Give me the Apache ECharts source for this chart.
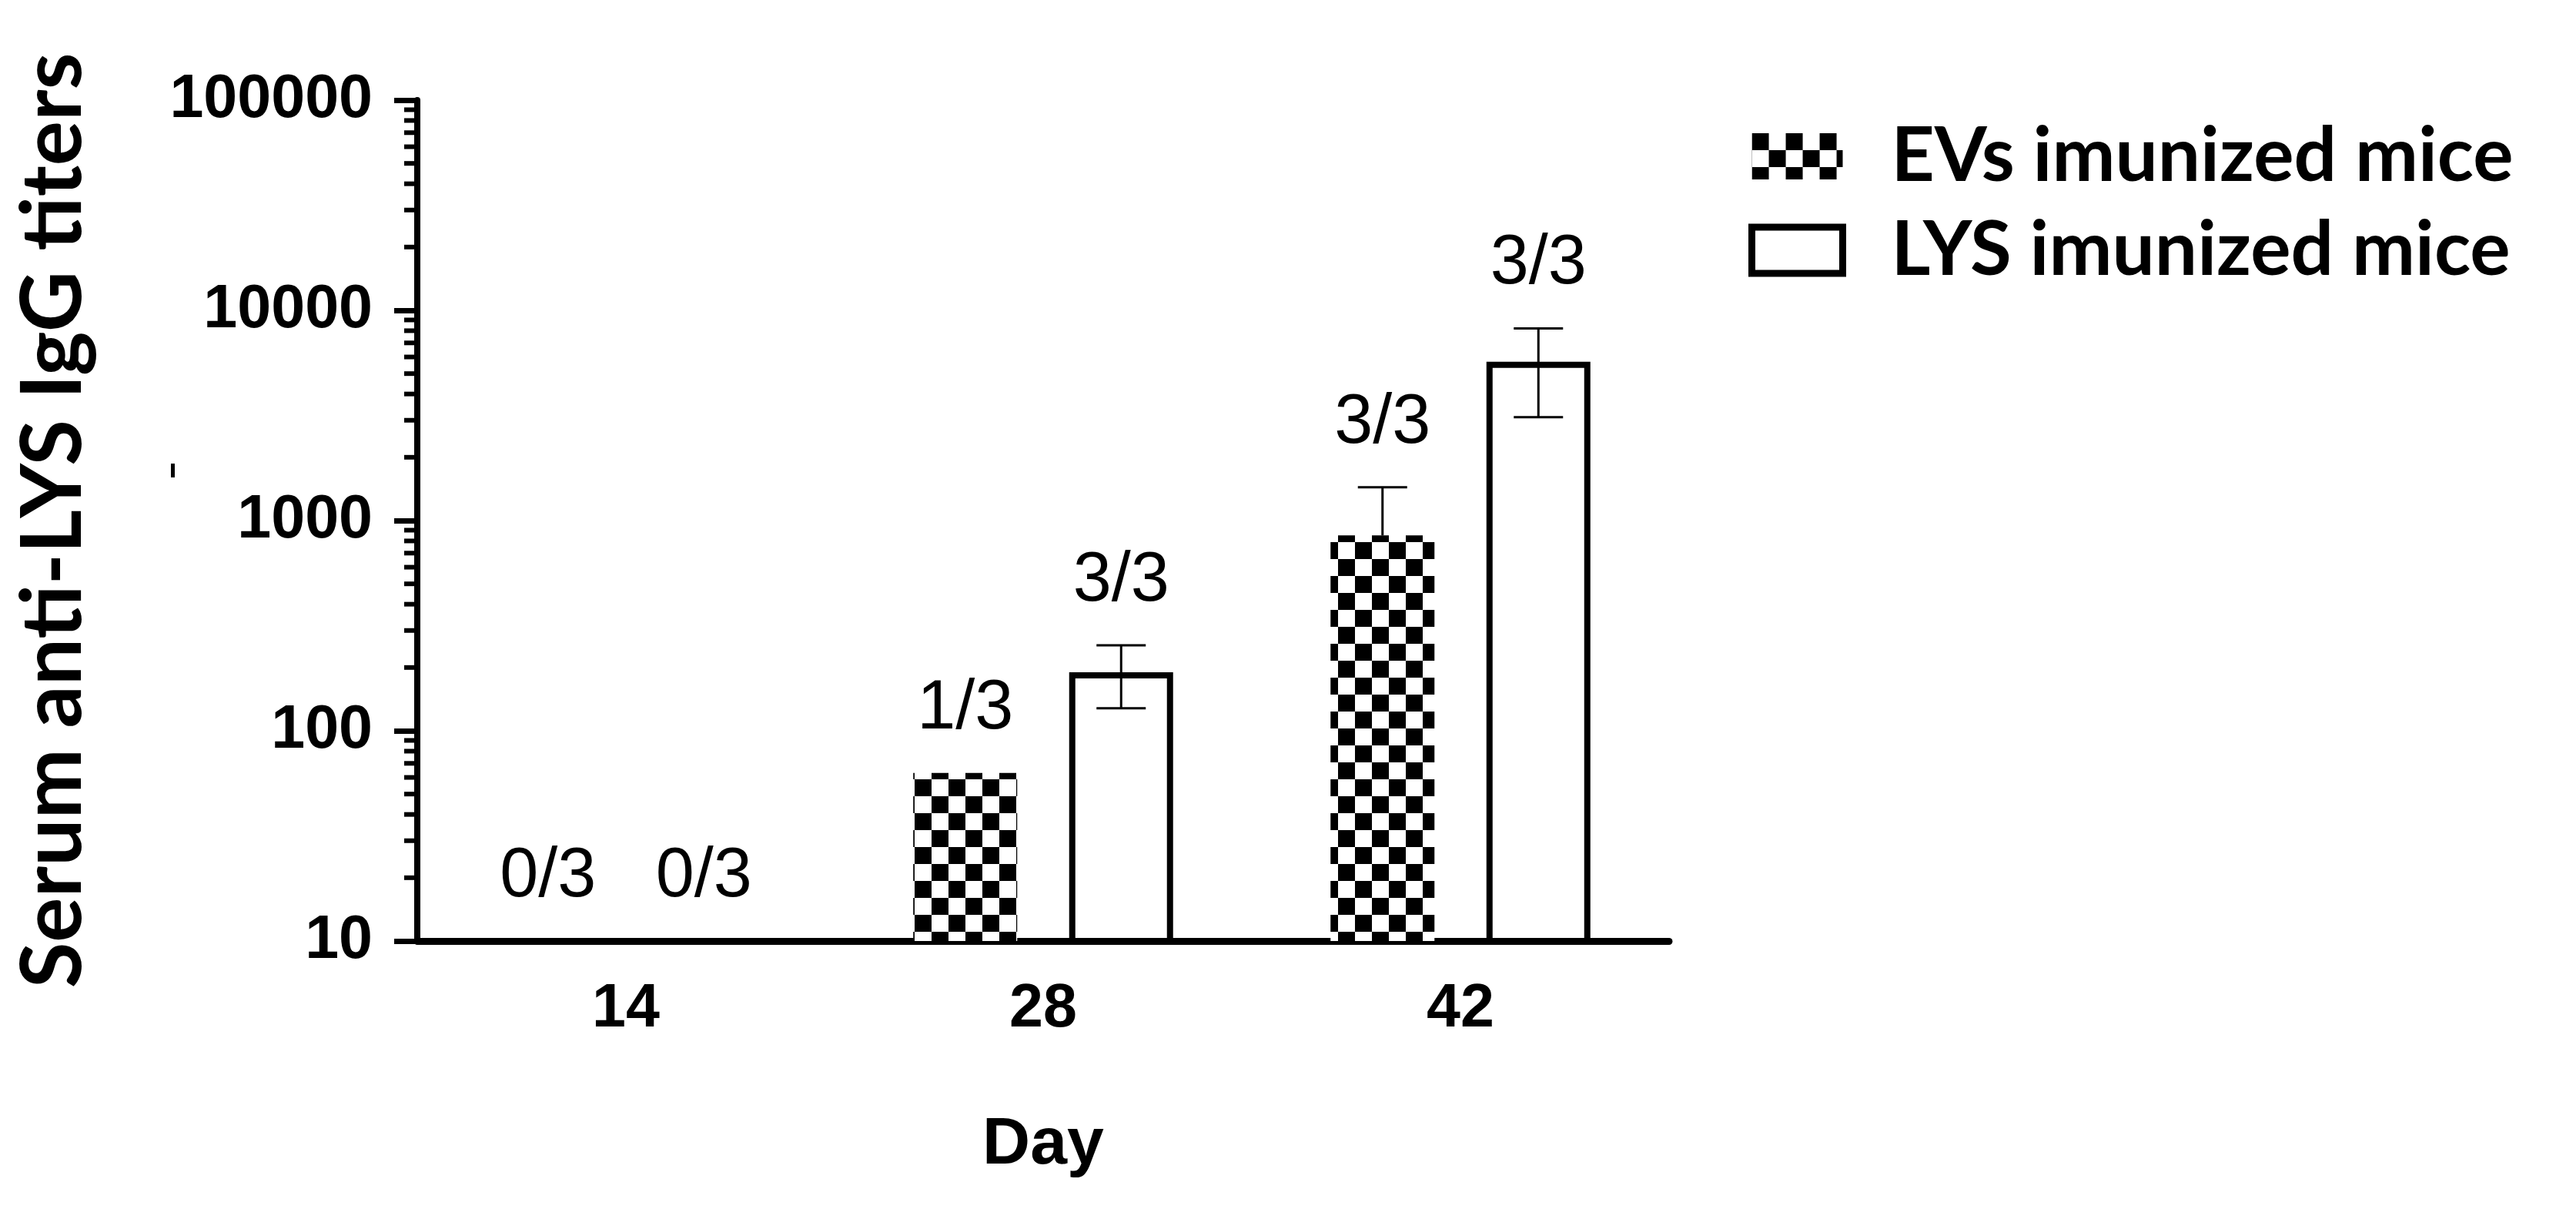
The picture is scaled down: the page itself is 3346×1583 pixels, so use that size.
<!DOCTYPE html>
<html>
<head>
<meta charset="utf-8">
<script src="https://cdn.jsdelivr.net/npm/echarts@6/dist/echarts.min.js"></script>
<style>
  html, body { margin: 0; padding: 0; background: #fff; }
  #chart { width: 3346px; height: 1583px; }
</style>
</head>
<body>
<div id="chart"></div>
<script>
// ---- data ----
const days = ['14', '28', '42'];
const seriesNames = ['EVs imunized mice', 'LYS imunized mice'];
const evsTiter = [null, 63, 850];
const lysTiter = [null, 190, 5700];
const evsErrHigh = [null, null, 1440];
const evsErrLow = [null, null, null];
const lysErrHigh = [null, 255, 8200];
const lysErrLow = [null, 128, 3100];
const evsResponders = ['0/3', '1/3', '3/3'];
const lysResponders = ['0/3', '3/3', '3/3'];
const yMin = 10;
const yMax = 100000;
const minorMultipliers = [2, 3, 4, 5, 6, 7, 8, 9];
const minorDecades = [10, 100, 1000, 10000];

// ---- styles ----
const BAR_W = 135;
const BAR_GAP = 0.5;
const NUM_FONT = '"Liberation Sans", Arial, sans-serif';
const TITLE_FONT = 'Lato, "Open Sans", sans-serif';

function makeChecker(size) {
  const c = document.createElement('canvas');
  c.width = size * 2; c.height = size * 2;
  const g = c.getContext('2d');
  g.fillStyle = '#fff'; g.fillRect(0, 0, size * 2, size * 2);
  g.fillStyle = '#000';
  g.fillRect(0, 0, size, size);
  g.fillRect(size, size, size, size);
  return c;
}
const checker = { image: makeChecker(22), repeat: 'repeat' };

const minorTicks = [];
minorDecades.forEach(d => minorMultipliers.forEach(m => minorTicks.push([0, d * m])));

function groupOffset(g) {
  const total = BAR_W * (2 + BAR_GAP);
  return -total / 2 + BAR_W / 2 + g * BAR_W * (1 + BAR_GAP);
}

const errData = [];
[[evsErrLow, evsErrHigh, evsTiter], [lysErrLow, lysErrHigh, lysTiter]].forEach((arr, g) => {
  days.forEach((d, i) => {
    if (arr[1][i] != null) errData.push([i, arr[0][i] != null ? arr[0][i] : arr[2][i], arr[1][i], g, arr[0][i] != null ? 1 : 0]);
  });
});

const labelData = [];
[[evsResponders, evsErrHigh, evsTiter], [lysResponders, lysErrHigh, lysTiter]].forEach((arr, g) => {
  days.forEach((d, i) => {
    const anchor = arr[1][i] != null ? arr[1][i] : (arr[2][i] != null ? arr[2][i] : yMin);
    labelData.push([i, anchor, g, arr[0][i]]);
  });
});

const chart = echarts.init(document.getElementById('chart'), null, { renderer: 'canvas' });

chart.setOption({
  backgroundColor: '#fff',
  animation: false,
  grid: { left: 542, right: 1178, top: 130, bottom: 361, containLabel: false },
  legend: {
    left: 2266, top: 148, orient: 'vertical',
    itemWidth: 118, itemHeight: 60, itemGap: 22,
    selectedMode: false,
    textStyle: { fontFamily: TITLE_FONT, fontWeight: 'bold', fontSize: 98, color: '#000', lineHeight: 100, padding: [0, 0, 0, 58] },
    data: [
      { name: seriesNames[0], icon: 'rect' },
      { name: seriesNames[1], icon: 'rect', itemStyle: { color: '#fff', borderColor: '#000', borderWidth: 9 } }
    ]
  },
  xAxis: {
    type: 'category', data: days,
    name: 'Day', nameLocation: 'middle', nameGap: 222,
    nameTextStyle: { fontFamily: NUM_FONT, fontWeight: 'bold', fontSize: 86, color: '#000' },
    axisLine: { lineStyle: { color: '#000', width: 9 } },
    axisTick: { alignWithLabel: true, length: 26, lineStyle: { color: '#000', width: 6 } },
    axisLabel: { margin: 50, fontFamily: NUM_FONT, fontWeight: 'bold', fontSize: 79, color: '#000' },
    splitLine: { show: false }
  },
  yAxis: {
    type: 'log', logBase: 10, min: yMin, max: yMax,
    name: 'Serum anti-LYS IgG titers', nameLocation: 'middle', nameGap: 418, nameRotate: 90,
    nameTextStyle: { fontFamily: TITLE_FONT, fontWeight: 'bold', fontSize: 109, color: '#000' },
    axisLine: { show: true, lineStyle: { color: '#000', width: 8 } },
    axisTick: { show: true, length: 30, lineStyle: { color: '#000', width: 7 } },
    axisLabel: { margin: 58, fontFamily: NUM_FONT, fontWeight: 'bold', fontSize: 79, color: '#000', formatter: v => String(v) },
    splitLine: { show: false }
  },
  graphic: [
    { type: 'rect', left: 222, top: 602, shape: { width: 5, height: 18 }, style: { fill: '#000' }, silent: true }
  ],
  series: [
    {
      name: seriesNames[0], type: 'bar', data: evsTiter, barWidth: BAR_W, barGap: (BAR_GAP * 100) + '%',
      itemStyle: { color: checker }, z: 2
    },
    {
      name: seriesNames[1], type: 'bar', data: lysTiter, barWidth: BAR_W, barGap: (BAR_GAP * 100) + '%',
      itemStyle: { color: '#fff', borderColor: '#000', borderWidth: 8 }, z: 2
    },
    {
      type: 'custom', name: 'minor', data: minorTicks, clip: false, silent: true, z: 5,
      renderItem: (params, api) => {
        const p = api.coord([api.value(0), api.value(1)]);
        const x0 = p[0] - api.size([1, 0])[0] / 2;
        return { type: 'line', shape: { x1: x0 - 17, y1: p[1], x2: x0, y2: p[1] }, style: { stroke: '#000', lineWidth: 6 } };
      }
    },
    {
      type: 'custom', name: 'err', data: errData, clip: false, silent: true, z: 4,
      renderItem: (params, api) => {
        const g = api.value(3);
        const hi = api.coord([api.value(0), api.value(2)]);
        const lo = api.coord([api.value(0), api.value(1)]);
        const x = hi[0] + groupOffset(g);
        const cw = 32;
        const children = [
          { type: 'line', shape: { x1: x, y1: hi[1], x2: x, y2: lo[1] }, style: { stroke: '#000', lineWidth: 3 } },
          { type: 'line', shape: { x1: x - cw, y1: hi[1], x2: x + cw, y2: hi[1] }, style: { stroke: '#000', lineWidth: 3 } }
        ];
        if (api.value(4) === 1) {
          children.push({ type: 'line', shape: { x1: x - cw, y1: lo[1], x2: x + cw, y2: lo[1] }, style: { stroke: '#000', lineWidth: 3 } });
        }
        return { type: 'group', children };
      }
    },
    {
      type: 'custom', name: 'labels', data: labelData, clip: false, silent: true, z: 6,
      renderItem: (params, api) => {
        const idx = params.dataIndex;
        const item = labelData[idx];
        const p = api.coord([item[0], item[1]]);
        return {
          type: 'text',
          style: {
            x: p[0] + groupOffset(item[2]), y: p[1] - 38,
            text: item[3], align: 'center', verticalAlign: 'bottom',
            font: '90px ' + NUM_FONT, fill: '#000'
          }
        };
      }
    }
  ]
});
</script>
</body>
</html>
